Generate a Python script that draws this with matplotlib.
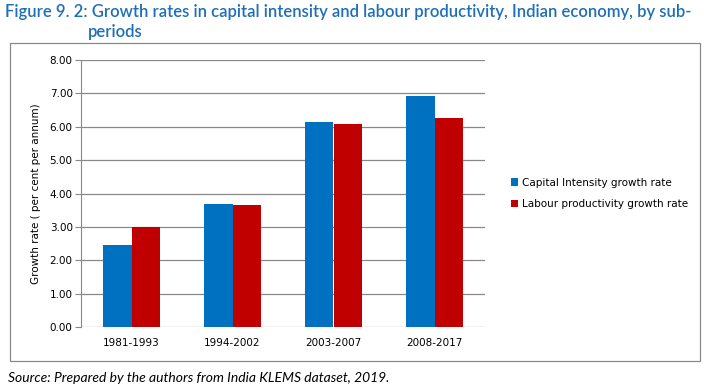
import matplotlib.pyplot as plt
import numpy as np
from matplotlib.patches import Rectangle

periods = ['1981-1993', '1994-2002', '2003-2007', '2008-2017']
capital_intensity = [2.46, 3.70, 6.14, 6.92]
labour_productivity = [3.00, 3.65, 6.08, 6.25]
yticks = [0, 1, 2, 3, 4, 5, 6, 7, 8]

blue = '#0070c0'
red = '#c00000'

fig = plt.figure(figsize=(7.04, 3.92), dpi=100)

# outer chart frame
fig.patches.append(Rectangle((10 / 704, 1 - 361 / 392), 690 / 704, 318 / 392,
                             transform=fig.transFigure, fill=False,
                             edgecolor='#888888', linewidth=0.9))

ax = fig.add_axes([81 / 704, 1 - 327 / 392, 404 / 704, 267 / 392])

x = np.arange(len(periods))
w = 0.285
ax.bar(x - w / 2, capital_intensity, w, color=blue, label='Capital Intensity growth rate', zorder=3)
ax.bar(x + w / 2, labour_productivity, w, color=red, label='Labour productivity growth rate', zorder=3)

ax.set_xlim(-0.5, len(periods) - 0.5)
ax.set_ylim(0, 8)
ax.set_yticks(yticks)
ax.set_yticklabels(['%.2f' % v for v in yticks], fontsize=7.5)
ax.set_xticks(x)
ax.set_xticklabels(periods, fontsize=7.5)
ax.tick_params(axis='x', length=0, pad=8)
ax.tick_params(axis='y', length=4, color='#888888', pad=2)
ax.grid(axis='y', color='#888888', linewidth=0.9, zorder=0)
for s in ['top', 'right', 'bottom']:
    ax.spines[s].set_visible(False)
ax.spines['left'].set_color('#888888')
ax.set_ylabel('Growth rate ( per cent per annum)', fontsize=7.5, labelpad=6)

ax.legend(loc='center left', bbox_to_anchor=(1.04, 0.5), frameon=False,
          fontsize=7.5, handlelength=0.7, handleheight=0.7, handletextpad=0.4,
          labelspacing=1.1)

title_color = '#1f6fb7'
fig.text(5 / 704, 1 - 12 / 392,
         'Figure 9. 2: Growth rates in capital intensity and labour productivity, Indian economy, by sub-',
         fontsize=12, color=title_color, va='center', family='Lato', fontweight='semibold')
fig.text(88 / 704, 1 - 32 / 392, 'periods', fontsize=12, color=title_color,
         va='center', family='Lato', fontweight='semibold')

fig.text(8 / 704, 1 - 378 / 392, 'Source: Prepared by the authors from India KLEMS dataset, 2019.',
         fontsize=10, style='italic', va='center', family='Lato')

fig.savefig('out.png', dpi=100)
